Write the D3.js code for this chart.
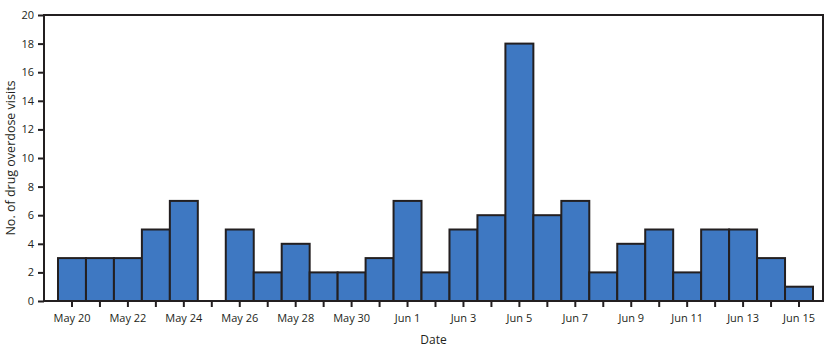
<!DOCTYPE html>
<html>
<head>
<meta charset="utf-8">
<script src="https://cdn.jsdelivr.net/npm/d3@7"></script>
<style>
  body { margin: 0; background: #fff; }
  text { font-family: "Open Sans", sans-serif; fill: #231f20; }
</style>
</head>
<body>
<div id="chart"></div>
<script>
// daily counts, May 20 - Jun 15
const dates = [
  "May 20", "May 21", "May 22", "May 23", "May 24", "May 25", "May 26",
  "May 27", "May 28", "May 29", "May 30", "May 31", "Jun 1", "Jun 2",
  "Jun 3", "Jun 4", "Jun 5", "Jun 6", "Jun 7", "Jun 8", "Jun 9",
  "Jun 10", "Jun 11", "Jun 12", "Jun 13", "Jun 14", "Jun 15"
];
const visits = [3, 3, 3, 5, 7, 0, 5, 2, 4, 2, 2, 3, 7, 2, 5, 6, 18, 6, 7, 2, 4, 5, 2, 5, 5, 3, 1];
const yTicks = [0, 2, 4, 6, 8, 10, 12, 14, 16, 18, 20];

const width = 835, height = 351;
const frame = { left: 44, right: 823, top: 15, bottom: 301 };
const ink = "#231f20";

const svg = d3.select("#chart").append("svg")
  .attr("width", width)
  .attr("height", height);

const x = d3.scaleBand()
  .domain(dates)
  .range([58, 813])
  .padding(0);

const y = d3.scaleLinear()
  .domain([0, 20])
  .range([frame.bottom, frame.top]);

// bars
svg.append("g")
  .selectAll("rect")
  .data(dates.map((d, i) => ({ date: d, value: visits[i] })).filter(d => d.value > 0))
  .enter()
  .append("rect")
  .attr("x", d => x(d.date))
  .attr("y", d => y(d.value))
  .attr("width", x.bandwidth())
  .attr("height", d => y(0) - y(d.value))
  .attr("fill", "#3e78c2")
  .attr("stroke", ink)
  .attr("stroke-width", 2);

// frame
svg.append("rect")
  .attr("x", frame.left)
  .attr("y", frame.top)
  .attr("width", frame.right - frame.left)
  .attr("height", frame.bottom - frame.top)
  .attr("fill", "none")
  .attr("stroke", ink)
  .attr("stroke-width", 2);

// y axis
const yAxis = svg.append("g")
  .attr("transform", `translate(${frame.left},0)`)
  .call(d3.axisLeft(y).tickValues(yTicks).tickSize(6).tickPadding(4));
yAxis.select(".domain").remove();
yAxis.selectAll(".tick line").attr("stroke", ink).attr("stroke-width", 2);
yAxis.selectAll(".tick text").style("font-size", "11px").attr("fill", ink);

// x axis
const xAxis = svg.append("g")
  .attr("transform", `translate(0,${frame.bottom})`)
  .call(d3.axisBottom(x).tickSize(6).tickPadding(7)
    .tickFormat((d, i) => i % 2 === 0 ? d : ""));
xAxis.select(".domain").remove();
xAxis.selectAll(".tick line").attr("stroke", ink).attr("stroke-width", 2);
xAxis.selectAll(".tick text").style("font-size", "11px").attr("fill", ink);

// axis titles
svg.append("text")
  .attr("x", (frame.left + frame.right) / 2)
  .attr("y", 344)
  .attr("text-anchor", "middle")
  .style("font-size", "12px")
  .text("Date");

svg.append("text")
  .attr("transform", `translate(15,${(frame.top + frame.bottom) / 2}) rotate(-90)`)
  .attr("text-anchor", "middle")
  .style("font-size", "12.5px")
  .text("No. of drug overdose visits");
</script>
</body>
</html>
